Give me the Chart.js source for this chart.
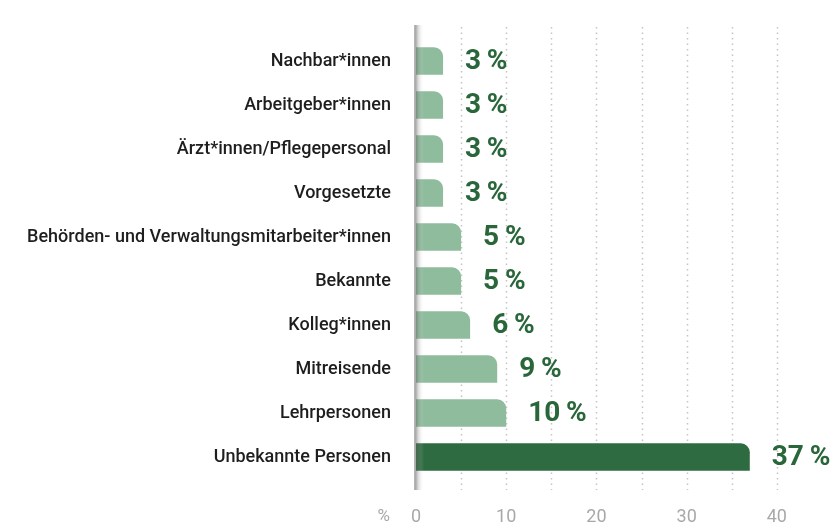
<!DOCTYPE html>
<html lang="de">
<head>
<meta charset="utf-8">
<title>Personen</title>
<script src="https://cdn.jsdelivr.net/npm/chart.js@4/dist/chart.umd.min.js"></script>
<style>
    html, body { margin: 0; padding: 0; background: #fff; }
    #wrap { width: 840px; height: 532px; position: relative; }
</style>
</head>
<body>
<div id="wrap"><canvas id="chart"></canvas></div>
<script>
// Daten
const categories = [
    'Nachbar*innen',
    'Arbeitgeber*innen',
    'Ärzt*innen/Pflegepersonal',
    'Vorgesetzte',
    'Behörden- und Verwaltungsmitarbeiter*innen',
    'Bekannte',
    'Kolleg*innen',
    'Mitreisende',
    'Lehrpersonen',
    'Unbekannte Personen'
];
const values = [3, 3, 3, 3, 5, 5, 6, 9, 10, 37];
const highlight = [false, false, false, false, false, false, false, false, false, true];
const tickLabels = [0, 10, 20, 30, 40];
const gridValues = [5, 10, 15, 20, 25, 30, 35, 40];

const LIGHT = '#8ebc9d';
const DARK = '#2e6b40';
const VALUE_COLOR = '#296639';

// Gepunktete Rasterlinien, etwas über die Plotfläche hinaus
const gridPlugin = {
    id: 'dottedGrid',
    beforeDatasetsDraw(chart) {
        const { ctx, chartArea, scales } = chart;
        ctx.save();
        ctx.strokeStyle = '#c4c4c4';
        ctx.lineWidth = 1.5;
        ctx.setLineDash([1.5, 4]);
        gridValues.forEach(v => {
            const x = Math.round(scales.x.getPixelForValue(v)) + 0.5;
            ctx.beginPath();
            ctx.moveTo(x, chartArea.top - 12);
            ctx.lineTo(x, chartArea.bottom + 11);
            ctx.stroke();
        });
        ctx.restore();
    },
    afterDatasetsDraw(chart) {
        const { ctx, chartArea, scales } = chart;
        const x0 = scales.x.getPixelForValue(0) - 1;
        const top = chartArea.top - 14;
        const bottom = chartArea.bottom + 11;
        ctx.save();
        // Schatten der Achse
        const g = ctx.createLinearGradient(x0, 0, x0 + 9, 0);
        g.addColorStop(0, 'rgba(80,80,80,0.6)');
        g.addColorStop(0.35, 'rgba(120,120,120,0.28)');
        g.addColorStop(1, 'rgba(255,255,255,0)');
        ctx.fillStyle = g;
        ctx.fillRect(x0, top, 9, bottom - top);
        ctx.fillStyle = '#b5b5b5';
        ctx.fillRect(x0 - 1, top, 1.5, bottom - top);

        // Wertbeschriftungen
        const meta = chart.getDatasetMeta(0);
        ctx.font = 'bold 28px Roboto';
        ctx.fillStyle = VALUE_COLOR;
        ctx.textBaseline = 'middle';
        ctx.textAlign = 'left';
        meta.data.forEach((bar, i) => {
            ctx.fillText(values[i] + '\u2009%', bar.x + 22, bar.y + 1);
        });

        // Einheit links der x-Achse
        ctx.font = '17px Roboto';
        ctx.fillStyle = '#a8a8a8';
        ctx.textAlign = 'right';
        ctx.fillText('%', x0 - 25, 517);
        ctx.restore();
    }
};

const ctx = document.getElementById('chart').getContext('2d');
new Chart(ctx, {
    type: 'bar',
    data: {
        labels: categories,
        datasets: [{
            data: values,
            backgroundColor: highlight.map(h => h ? DARK : LIGHT),
            borderRadius: { topLeft: 0, topRight: 9, bottomLeft: 0, bottomRight: 0 },
            borderSkipped: 'start',
            barPercentage: 0.62,
            categoryPercentage: 1
        }]
    },
    options: {
        indexAxis: 'y',
        responsive: true,
        maintainAspectRatio: false,
        animation: false,
        layout: { padding: { top: 39, right: 0, left: 0, bottom: 0 } },
        plugins: { legend: { display: false }, tooltip: { enabled: false } },
        scales: {
            x: {
                min: 0,
                max: 47,
                afterBuildTicks: scale => {
                    scale.ticks = tickLabels.map(v => ({ value: v }));
                },
                afterFit: scale => { scale.height = 53; },
                grid: { display: false, drawTicks: false },
                border: { display: false },
                ticks: {
                    color: '#a8a8a8',
                    font: { family: 'Roboto', size: 18 },
                    padding: 28,
                    maxRotation: 0
                }
            },
            y: {
                afterFit: scale => { scale.width = 416; },
                grid: { display: false, drawTicks: false },
                border: { display: false },
                ticks: {
                    color: '#1e1e1e',
                    font: { family: 'Roboto', size: 18, weight: '500' },
                    padding: 25
                }
            }
        }
    },
    plugins: [gridPlugin]
});
</script>
</body>
</html>
